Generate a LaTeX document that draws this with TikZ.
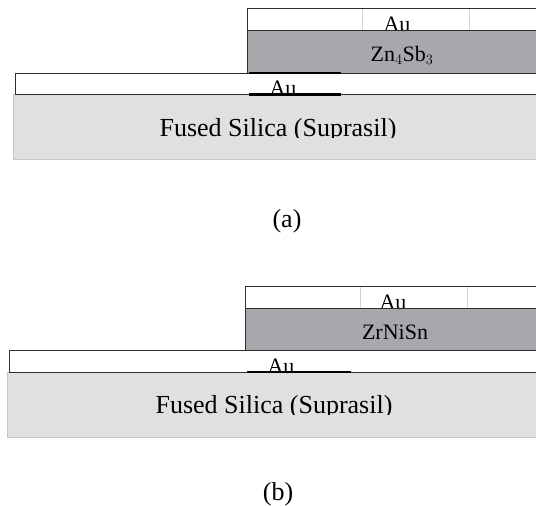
\documentclass[tikz,border=0pt]{standalone}
\usepackage{fontspec}
\setmainfont{Liberation Serif}
\definecolor{silica}{HTML}{DFE0E2}
\definecolor{silicaedge}{HTML}{C6C7C9}
\definecolor{film}{HTML}{A7A8AB}
\definecolor{edge}{HTML}{2E2E2E}
\definecolor{seam}{HTML}{D4D4D4}

\begin{document}
\begin{tikzpicture}[x=1pt,y=-1pt,
  every node/.style={inner sep=0pt,anchor=base},
  gold/.style={draw=edge,fill=white,line width=1pt},
  filmlayer/.style={draw=edge,fill=film,line width=1pt},
  substrate/.style={draw=silicaedge,fill=silica,line width=1pt},
  bar/.style={draw=black,line width=2.6pt},
  small/.style={font=\fontsize{22}{26}\selectfont},
  big/.style={font=\fontsize{26}{30}\selectfont}]

\useasboundingbox (0,0) rectangle (536,506);

% (a)
\draw[substrate] (13,94.5) rectangle (545,159.3);
\draw[gold] (15,73) rectangle (545,94.5);
\draw[filmlayer] (247.5,30) rectangle (545,73);
\draw[gold] (247.5,8.3) rectangle (545,30);
\draw[seam,line width=0.6pt] (362.5,8.8) -- (362.5,29.5);
\draw[seam,line width=0.6pt] (469,8.8) -- (469,29.5);

\begin{scope}
\clip (0,0) rectangle (536,137.5);
\node[big] (silicaA) at (278,136) {Fused Silica (Suprasil)};
\end{scope}
\node[small] (filmA) at (402,61.7) {Zn$_4$Sb$_3$};
\node[small] (topAuA) at (397,31) {Au};
\node[small] (botAuA) at (283,95.5) {Au};
\draw[edge,line width=1pt] (247.5,30) -- (545,30);
\draw[edge,line width=1pt] (15,94.5) -- (545,94.5);
\coordinate (barA1) at (249,73);
\coordinate (barA2) at (341,73);
\coordinate (barA3) at (249,94.5);
\coordinate (barA4) at (341,94.5);
\draw[bar] (barA1) -- (barA2);
\draw[bar] (barA3) -- (barA4);

\node[big] (capA) at (287,227) {(a)};

% (b)
\draw[substrate] (7.3,372) rectangle (545,437);
\draw[gold] (9.5,350) rectangle (545,372);
\draw[filmlayer] (245,308) rectangle (545,350);
\draw[gold] (245,286) rectangle (545,308);
\draw[seam,line width=0.6pt] (360,286.5) -- (360,307.5);
\draw[seam,line width=0.6pt] (467,286.5) -- (467,307.5);

\begin{scope}
\clip (0,250) rectangle (536,414.5);
\node[big] (silicaB) at (274,413.3) {Fused Silica (Suprasil)};
\end{scope}
\node[small] (filmB) at (395,339.3) {ZrNiSn};
\node[small] (topAuB) at (393,309) {Au};
\node[small] (botAuB) at (281,373) {Au};
\draw[edge,line width=1pt] (245,308) -- (545,308);
\draw[edge,line width=1pt] (9.5,372) -- (545,372);
\coordinate (barB1) at (247,372);
\coordinate (barB2) at (351,372);
\draw[bar] (barB1) -- (barB2);

\node[big] (capB) at (278,500) {(b)};
\end{tikzpicture}
\end{document}
